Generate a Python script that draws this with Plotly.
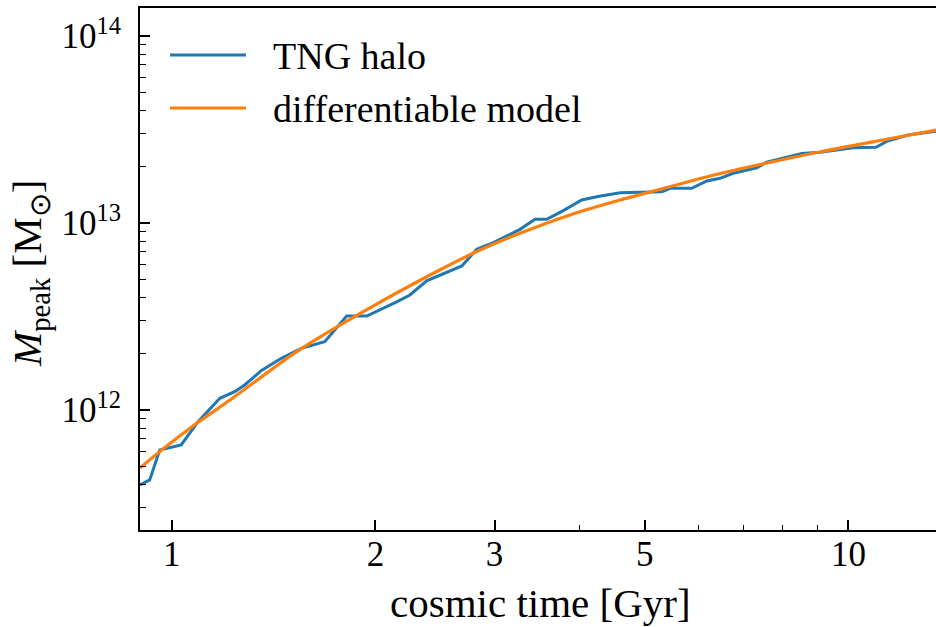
import plotly.graph_objects as go

# TNG halo peak-mass history (cosmic time in Gyr, mass in Msun)
tng_time = [0.898, 0.928, 0.960, 1.033, 1.094, 1.178, 1.239, 1.282, 1.356, 1.452,
            1.554, 1.683, 1.814, 1.942, 2.150, 2.249, 2.381, 2.519, 2.683, 2.823,
            2.987, 3.271, 3.442, 3.582, 3.790, 4.035, 4.265, 4.597, 5.004, 5.302,
            5.448, 5.865, 6.178, 6.457, 6.756, 7.318, 7.570, 8.537, 9.077, 10.165,
            10.98, 11.42, 12.24, 13.47]
tng_mpeak = [3.97e11, 4.23e11, 6.11e11, 6.50e11, 8.66e11, 1.155e12, 1.253e12, 1.361e12,
             1.623e12, 1.890e12, 2.138e12, 2.318e12, 3.18e12, 3.18e12, 3.79e12, 4.12e12,
             4.91e12, 5.33e12, 5.89e12, 7.23e12, 7.85e12, 9.25e12, 1.047e13, 1.047e13,
             1.164e13, 1.327e13, 1.386e13, 1.452e13, 1.470e13, 1.470e13, 1.533e13,
             1.533e13, 1.677e13, 1.734e13, 1.844e13, 1.974e13, 2.112e13, 2.353e13,
             2.388e13, 2.527e13, 2.542e13, 2.745e13, 2.955e13, 3.10e13]

# Differentiable model prediction
model_time = [0.898, 0.9666, 1.0888, 1.2194, 1.530, 1.919, 2.408, 2.855, 3.271, 3.877,
              4.597, 5.207, 6.243, 8.98, 11.13, 13.47]
model_mpeak = [4.90e11, 6.11e11, 8.49e11, 1.131e12, 2.050e12, 3.355e12, 5.27e12, 7.17e12,
               8.81e12, 1.104e13, 1.327e13, 1.496e13, 1.784e13, 2.382e13, 2.762e13, 3.14e13]

x_major = [1, 2, 3, 5, 10]
x_major_text = ["1", "2", "3", "5", "10"]
x_minor = [4, 6, 7, 8, 9]
y_major = [1e12, 1e13, 1e14]
y_major_text = ["10<sup>12</sup>", "10<sup>13</sup>", "10<sup>14</sup>"]
y_minor = [m * 10 ** e for e in (11, 12, 13) for m in range(2, 10)]

legend_names = ["TNG halo", "differentiable model"]
colors = ["#1f77b4", "#ff7f0e"]

FONT = "Liberation Serif"

fig = go.Figure()
fig.add_trace(go.Scatter(x=tng_time, y=tng_mpeak, mode="lines",
                         line=dict(color=colors[0], width=3), name=legend_names[0]))
fig.add_trace(go.Scatter(x=model_time, y=model_mpeak, mode="lines",
                         line=dict(color=colors[1], width=3.2, shape="spline", smoothing=0.6),
                         name=legend_names[1]))

W, H = 936, 627
L, R, T, B = 140, 0, 8, 97
pw, ph = W - L - R, H - T - B

def px_x(p):
    return (p - L) / pw

def px_y(p):
    return (H - B - p) / ph

fig.update_layout(
    width=W, height=H,
    margin=dict(l=L, r=R, t=T, b=B),
    plot_bgcolor="white", paper_bgcolor="white",
    showlegend=False,
    font=dict(family=FONT, color="black", size=34),
)

fig.update_xaxes(
    type="log", range=[-0.0468, 1.1293],
    tickmode="array", tickvals=x_major, ticktext=x_major_text,
    ticks="inside", ticklen=10, tickwidth=1.6, tickcolor="black",
    minor=dict(tickmode="array", tickvals=x_minor, ticks="inside", ticklen=5,
               tickwidth=1.4, tickcolor="black", showgrid=False),
    showline=True, linecolor="black", linewidth=2, mirror=True,
    showgrid=False, zeroline=False,
    tickfont=dict(family=FONT, size=35),
    ticklabelstandoff=-8,
)
fig.update_yaxes(
    type="log", range=[11.3583, 14.1497],
    tickmode="array", tickvals=y_major, ticktext=y_major_text,
    ticks="inside", ticklen=10, tickwidth=1.6, tickcolor="black",
    minor=dict(tickmode="array", tickvals=y_minor, ticks="inside", ticklen=6,
               tickwidth=1.4, tickcolor="black", showgrid=False),
    showline=True, linecolor="black", linewidth=2, mirror=False,
    showgrid=False, zeroline=False,
    tickfont=dict(family=FONT, size=35),
    ticklabelstandoff=10,
)

# Axis titles
fig.add_annotation(text="cosmic time [Gyr]", xref="paper", yref="paper",
                   x=px_x(540), y=px_y(603), xanchor="center", yanchor="middle",
                   showarrow=False, font=dict(family=FONT, size=41))
fig.add_annotation(text="<i>M</i><sub>peak</sub> [M<sub>⊙</sub>]", xref="paper", yref="paper",
                   x=px_x(30), y=px_y(274), xanchor="center", yanchor="middle",
                   textangle=-90, showarrow=False, font=dict(family=FONT, size=41))

# Legend drawn as line samples with labels
for i, (name, c) in enumerate(zip(legend_names, colors)):
    yy = 55 + i * 53
    fig.add_shape(type="line", xref="paper", yref="paper",
                  x0=px_x(170), x1=px_x(246), y0=px_y(yy), y1=px_y(yy),
                  line=dict(color=c, width=3))
    fig.add_annotation(text=name, xref="paper", yref="paper",
                       x=px_x(271), y=px_y(yy + 1), xanchor="left", yanchor="middle",
                       showarrow=False, font=dict(family=FONT, size=38))

fig.write_html("out.html")
